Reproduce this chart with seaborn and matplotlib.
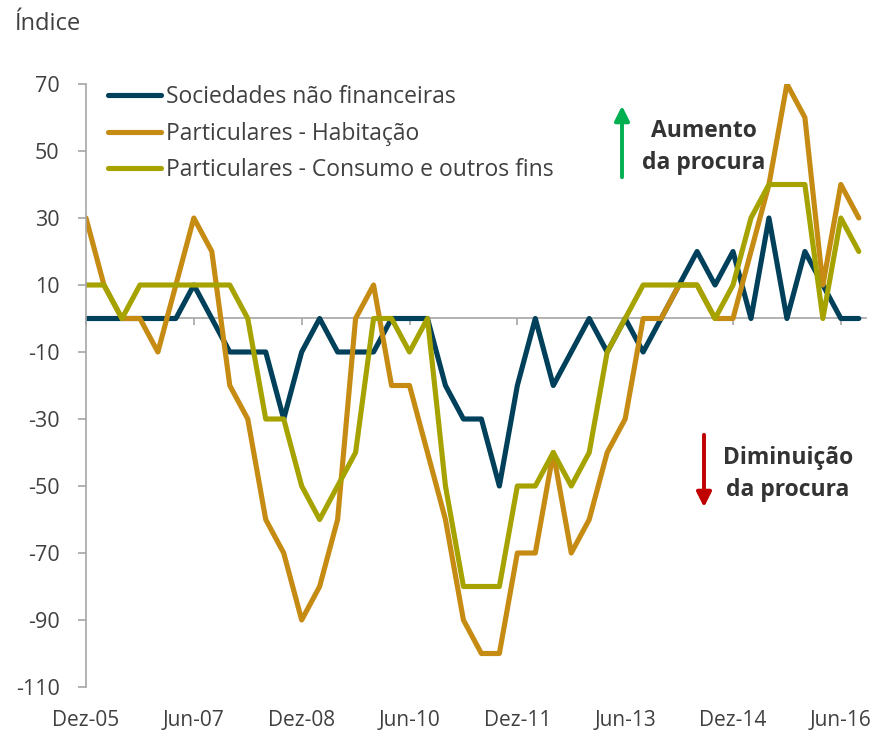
import matplotlib
matplotlib.use("Agg")
import matplotlib.pyplot as plt
import seaborn as sns
import pandas as pd
import numpy as np

# quarterly survey index, Dez-05 .. Set-16
n_quarters = 44
sociedades = [0, 0, 0, 0, 0, 0, 10, 0, -10, -10, -10, -30, -10, 0, -10, -10,
              -10, 0, 0, 0, -20, -30, -30, -50, -20, 0, -20, -10, 0, -10, 0, -10,
              0, 10, 20, 10, 20, 0, 30, 0, 20, 10, 0, 0]
habitacao = [30, 10, 0, 0, -10, 10, 30, 20, -20, -30, -60, -70, -90, -80, -60, 0,
             10, -20, -20, -40, -60, -90, -100, -100, -70, -70, -40, -70, -60, -40, -30, 0,
             0, 10, 10, 0, 0, 20, 40, 70, 60, 10, 40, 30]
consumo = [10, 10, 0, 10, 10, 10, 10, 10, 10, 0, -30, -30, -50, -60, -50, -40,
           0, 0, -10, 0, -50, -80, -80, -80, -50, -50, -40, -50, -40, -10, 0, 10,
           10, 10, 10, 0, 10, 30, 40, 40, 40, 0, 30, 20]

series_names = ["Sociedades não financeiras",
                "Particulares - Habitação",
                "Particulares - Consumo e outros fins"]
colors = ["#00405A", "#C68B12", "#A6A300"]

tick_pos = [0, 6, 12, 18, 24, 30, 36, 42]
tick_labels = ["Dez-05", "Jun-07", "Dez-08", "Jun-10", "Dez-11", "Jun-13", "Dez-14", "Jun-16"]
y_ticks = [70, 50, 30, 10, -10, -30, -50, -70, -90, -110]

df = pd.DataFrame({
    "trimestre": np.tile(np.arange(n_quarters), 3),
    "indice": sociedades + habitacao + consumo,
    "serie": np.repeat(series_names, n_quarters),
})

sns.set_theme(style="white")
plt.rcParams["font.family"] = ["Open Sans", "DejaVu Sans"]
TXT = "#404040"
AXC = "#A6A6A6"
LW = 3.7

W, H = 884, 735
fig = plt.figure(figsize=(W / 100, H / 100), dpi=100)
ax = fig.add_axes([86 / W, 1 - 687 / H, 780 / W, 603 / H])

sns.lineplot(data=df, x="trimestre", y="indice", hue="serie", hue_order=series_names,
             palette=colors, linewidth=LW, ax=ax)

ax.set_xlim(0, 43.4)
ax.set_ylim(-110, 70)
ax.set_xlabel("")
ax.set_ylabel("")

# y axis on the left, x axis crossing at zero
for s in ["top", "right"]:
    ax.spines[s].set_visible(False)
ax.spines["left"].set_color(AXC)
ax.spines["left"].set_linewidth(1.2)
ax.spines["bottom"].set_position(("data", 0))
ax.spines["bottom"].set_color(AXC)
ax.spines["bottom"].set_linewidth(1.2)
ax.spines["bottom"].set_zorder(1)

ax.set_yticks(y_ticks)
ax.set_yticklabels([str(v) for v in y_ticks])
ax.tick_params(axis="y", direction="out", length=6, width=1.2, color=AXC,
               labelsize=15.5, labelcolor=TXT, pad=13, left=True)
ax.set_xticks(tick_pos)
ax.set_xticklabels([""] * len(tick_pos))
ax.tick_params(axis="x", direction="out", length=5, width=1.2, color=AXC, bottom=True)
for p, lab in zip(tick_pos, tick_labels):
    ax.text(p, -0.056, lab, transform=ax.get_xaxis_transform(), ha="center", va="center",
            fontsize=15, color=TXT)

leg = ax.legend(loc="upper left", bbox_to_anchor=(0.028, 0.998), frameon=False,
                fontsize=16.5, handlelength=2.3, handletextpad=0.25, labelspacing=0.55,
                borderpad=0, borderaxespad=0)
for t in leg.get_texts():
    t.set_color(TXT)
for h in leg.get_lines():
    h.set_linewidth(LW)

fig.text(15 / W, 1 - 24 / H, "Índice", ha="left", va="center", fontsize=17, color=TXT)

# demand arrows
ax.annotate("", xy=(622 / W, 1 - 103 / H), xytext=(622 / W, 1 - 180 / H),
            xycoords="figure fraction", textcoords="figure fraction",
            arrowprops=dict(arrowstyle="-|>", color="#00B050", lw=2.8, mutation_scale=22))
ax.annotate("", xy=(704 / W, 1 - 510 / H), xytext=(704 / W, 1 - 432 / H),
            xycoords="figure fraction", textcoords="figure fraction",
            arrowprops=dict(arrowstyle="-|>", color="#C00000", lw=2.8, mutation_scale=22))

fig.text(704 / W, 1 - 147 / H, "Aumento\nda procura", ha="center", va="center",
         fontsize=16.5, fontweight="bold", color="#333333", linespacing=1.45)
fig.text(788 / W, 1 - 474 / H, "Diminuição\nda procura", ha="center", va="center",
         fontsize=16.5, fontweight="bold", color="#333333", linespacing=1.45)

fig.savefig("out.png", dpi=100)
